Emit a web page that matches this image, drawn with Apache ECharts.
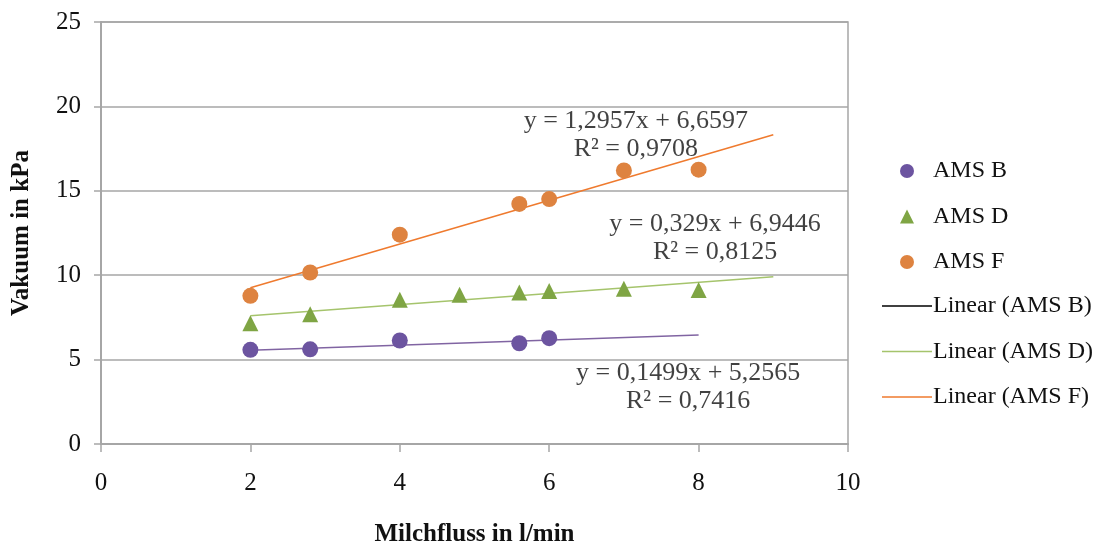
<!DOCTYPE html>
<html>
<head>
<meta charset="utf-8">
<script src="https://cdn.jsdelivr.net/npm/echarts@6/dist/echarts.min.js"></script>
<style>
  html, body { margin: 0; padding: 0; background: #fff; }
  #chart { width: 1108px; height: 542px; }
</style>
</head>
<body>
<div id="chart"></div>
<script>
// Milk flow (l/min) vs. vacuum (kPa) per milking system
const xTicks = [0, 2, 4, 6, 8, 10];
const yTicks = [0, 5, 10, 15, 20, 25];

const flowB = [2, 2.8, 4, 5.6, 6];
const vacB  = [5.58, 5.61, 6.13, 5.97, 6.27];

const flowD = [2, 2.8, 4, 4.8, 5.6, 6, 7, 8];
const vacD  = [7.16, 7.69, 8.54, 8.84, 8.98, 9.07, 9.20, 9.12];

const flowF = [2, 2.8, 4, 5.6, 6, 7, 8];
const vacF  = [8.78, 10.16, 12.40, 14.22, 14.51, 16.21, 16.25];

// Linear trend lines: slope, intercept, R², fitted x range
const fitNames   = ['Linear (AMS B)', 'Linear (AMS D)', 'Linear (AMS F)'];
const fitSlope   = [0.1499, 0.329, 1.2957];
const fitOffset  = [5.2565, 6.9446, 6.6597];
const fitR2      = ['0,7416', '0,8125', '0,9708'];
const fitRange   = [[2, 8], [2, 9], [2, 9]];
const fitEqText  = ['y = 0,1499x + 5,2565', 'y = 0,329x + 6,9446', 'y = 1,2957x + 6,6597'];

const pairs = (xs, ys) => xs.map((x, i) => [x, ys[i]]);
const fitLine = i => fitRange[i].map(x => [x, fitSlope[i] * x + fitOffset[i]]);

const serif = '"Liberation Serif", "DejaVu Serif", serif';
const gray = '#a6a6a6';
const textColor = '#111';

const cPurple = '#6c54a0';
const cGreen  = '#7fa544';
const cOrange = '#de8340';
const lPurple = '#8064a2';
const lGreen  = '#a5c46c';
const lOrange = '#ef7a2e';

// where each equation label sits, in data coordinates
const eqAnchor = [[7.86, 3.38], [8.22, 12.22], [7.16, 18.27]];

const legendText = { fontFamily: serif, fontSize: 24, lineHeight: 24, color: textColor };

const chart = echarts.init(document.getElementById('chart'), null, { renderer: 'canvas' });

chart.setOption({
  animation: false,
  backgroundColor: '#fff',
  grid: {
    left: 101, right: 260, top: 22, bottom: 98,
    containLabel: false, outerBoundsMode: 'none',
    show: true, borderColor: gray, borderWidth: 1.5, backgroundColor: 'transparent'
  },
  xAxis: {
    type: 'value', min: 0, max: 10, interval: 2,
    name: 'Milchfluss in l/min', nameLocation: 'middle', nameGap: 78,
    nameTextStyle: { fontFamily: serif, fontSize: 25, fontWeight: 'bold', color: textColor },
    axisLine: { show: true, lineStyle: { color: gray, width: 2 } },
    axisTick: { show: true, length: 8, lineStyle: { color: gray, width: 1.5 } },
    axisLabel: {
      fontFamily: serif, fontSize: 25, color: textColor, margin: 27,
      formatter: v => (xTicks.includes(v) ? String(v) : '')
    },
    splitLine: { show: false }
  },
  yAxis: {
    type: 'value', min: 0, max: 25, interval: 5,
    name: 'Vakuum in kPa', nameLocation: 'middle', nameGap: 67, nameRotate: 90,
    nameTextStyle: { fontFamily: serif, fontSize: 25, fontWeight: 'bold', color: textColor },
    axisLine: { show: true, lineStyle: { color: gray, width: 2 } },
    axisTick: { show: true, length: 7, lineStyle: { color: gray, width: 1.5 } },
    axisLabel: {
      fontFamily: serif, fontSize: 25, color: textColor, margin: 20,
      formatter: v => (yTicks.includes(v) ? String(v) : '')
    },
    splitLine: { show: true, lineStyle: { color: gray, width: 1.5 } }
  },
  legend: [
    {
      // marker entries
      orient: 'vertical', left: 895, top: 154,
      itemWidth: 14, itemHeight: 14, itemGap: 21.5,
      textStyle: Object.assign({ padding: [0, 0, 0, 14] }, legendText),
      data: [
        { name: 'AMS B', icon: 'circle' },
        { name: 'AMS D', icon: 'triangle' },
        { name: 'AMS F', icon: 'circle' }
      ]
    },
    {
      // trend line entries
      orient: 'vertical', left: 877, top: 289,
      itemWidth: 50, itemHeight: 1.5, itemGap: 21.5,
      textStyle: Object.assign({ padding: [0, 0, 0, -4] }, legendText),
      data: [
        { name: 'Linear (AMS B)', icon: 'rect', itemStyle: { color: '#000' } },
        { name: 'Linear (AMS D)', icon: 'rect', itemStyle: { color: lGreen } },
        { name: 'Linear (AMS F)', icon: 'rect', itemStyle: { color: lOrange } }
      ]
    }
  ],
  series: [
    {
      name: fitNames[0], type: 'line', data: fitLine(0), symbol: 'none',
      lineStyle: { color: lPurple, width: 1.5 }, itemStyle: { color: lPurple }, z: 1
    },
    {
      name: fitNames[1], type: 'line', data: fitLine(1), symbol: 'none',
      lineStyle: { color: lGreen, width: 1.5 }, itemStyle: { color: lGreen }, z: 1
    },
    {
      name: fitNames[2], type: 'line', data: fitLine(2), symbol: 'none',
      lineStyle: { color: lOrange, width: 1.5 }, itemStyle: { color: lOrange }, z: 1
    },
    {
      name: 'AMS B', type: 'scatter', data: pairs(flowB, vacB),
      symbol: 'circle', symbolSize: 16, itemStyle: { color: cPurple, opacity: 1 }, z: 3
    },
    {
      name: 'AMS D', type: 'scatter', data: pairs(flowD, vacD),
      symbol: 'triangle', symbolSize: 16, itemStyle: { color: cGreen, opacity: 1 }, z: 3
    },
    {
      name: 'AMS F', type: 'scatter', data: pairs(flowF, vacF),
      symbol: 'circle', symbolSize: 16, itemStyle: { color: cOrange, opacity: 1 }, z: 3
    },
    {
      // equation and R² labels for each trend line
      name: 'equations', type: 'scatter', symbolSize: 0, silent: true, z: 4,
      data: eqAnchor.map((p, i) => ({
        value: p,
        label: {
          show: true, position: 'inside',
          formatter: fitEqText[i] + '\nR² = ' + fitR2[i],
          fontFamily: serif, fontSize: 26, lineHeight: 28, color: textColor, align: 'center'
        }
      }))
    }
  ]
});
</script>
</body>
</html>
